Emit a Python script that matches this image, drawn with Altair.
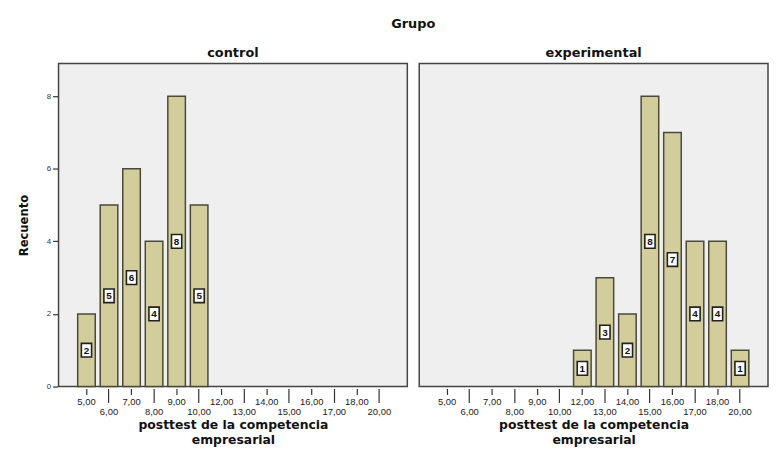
import altair as alt
import pandas as pd

categories = ["5,00", "6,00", "7,00", "8,00", "9,00", "10,00", "12,00", "13,00",
              "14,00", "15,00", "16,00", "17,00", "18,00", "20,00"]
groups = ["control", "experimental"]
control_cats = ["5,00", "6,00", "7,00", "8,00", "9,00", "10,00"]
control_counts = [2, 5, 6, 4, 8, 5]
exp_cats = ["12,00", "13,00", "14,00", "15,00", "16,00", "17,00", "18,00", "20,00"]
exp_counts = [1, 3, 2, 8, 7, 4, 4, 1]
y_ticks = [0, 2, 4, 6, 8]

rows = [{"Grupo": "control", "score": c, "n": n} for c, n in zip(control_cats, control_counts)]
rows += [{"Grupo": "experimental", "score": c, "n": n} for c, n in zip(exp_cats, exp_counts)]
df = pd.DataFrame(rows)

top_row = categories[0::2]
top_list = "[" + ",".join("'" + c + "'" for c in top_row) + "]"
is_top = f"indexof({top_list}, datum.value) >= 0"

FONT = "Liberation Sans"
BOLD = "DejaVu Sans"

x_enc = alt.X(
    "score:N",
    scale=alt.Scale(domain=categories, paddingInner=0.22, paddingOuter=0.85),
    sort=categories,
    axis=alt.Axis(
        title=["posttest de la competencia", "empresarial"],
        titleFont=BOLD, titleFontWeight="bold", titleFontSize=12.5,
        titleLineHeight=15, titlePadding=3, titleColor="#111",
        labelAngle=0, labelFontSize=9.5, labelFont=FONT, labelColor="#222",
        tickColor="#333", tickWidth=1.2, domain=False,
        tickSize=alt.ExprRef(expr=f"{is_top} ? 6 : 14"),
        labelPadding=alt.ExprRef(expr=f"{is_top} ? 2 : 4"),
        labelBaseline="top",
    ),
)
y_enc = alt.Y(
    "n:Q",
    scale=alt.Scale(domain=[0, 8.9], nice=False),
    axis=alt.Axis(
        title="Recuento", titleFont="DejaVu Sans Condensed, Liberation Sans",
        titleFontSize=13, titleFontWeight="bold", titleColor="#111",
        titlePadding=16,
        values=y_ticks, labelFontSize=8, labelColor="#333", labelFont=FONT,
        tickColor="#333", tickSize=5, tickWidth=1.2, domain=False, grid=False,
        labelPadding=2,
    ),
)

base = alt.Chart().encode(x=x_enc)

bars = base.mark_bar(fill="#d3cc9b", stroke="#4a4a3a", strokeWidth=1.5).encode(y=y_enc)

boxes = base.transform_calculate(half="datum.n / 2").mark_point(
    shape="M-0.75,-1H0.75V1H-0.75Z", filled=True, fill="white", stroke="#222",
    strokeWidth=1.6, size=190, opacity=1,
).encode(y=alt.Y("half:Q"))

labels = base.transform_calculate(half="datum.n / 2").mark_text(
    font=FONT, fontSize=10, fontWeight="bold", color="#111", dy=0.5,
).encode(y=alt.Y("half:Q"), text="n:Q")

layer = alt.layer(bars, boxes, labels).properties(width=352, height=326)

chart = layer.facet(
    data=df,
    column=alt.Column(
        "Grupo:N", sort=groups,
        header=alt.Header(
            title="Grupo", titleFont=BOLD, titleFontWeight="bold",
            titleFontSize=13, titleColor="#111", titlePadding=6,
            labelFont=BOLD, labelFontWeight="bold", labelFontSize=13,
            labelColor="#111", labelPadding=3,
        ),
    ),
    spacing=10,
).configure_view(
    fill="#efefef", stroke="#444", strokeWidth=1.5
).properties(
    padding={"left": 9, "top": 8, "right": 0, "bottom": 0}
)

chart.save("out.html", embed_options={"renderer": "svg", "actions": False})
